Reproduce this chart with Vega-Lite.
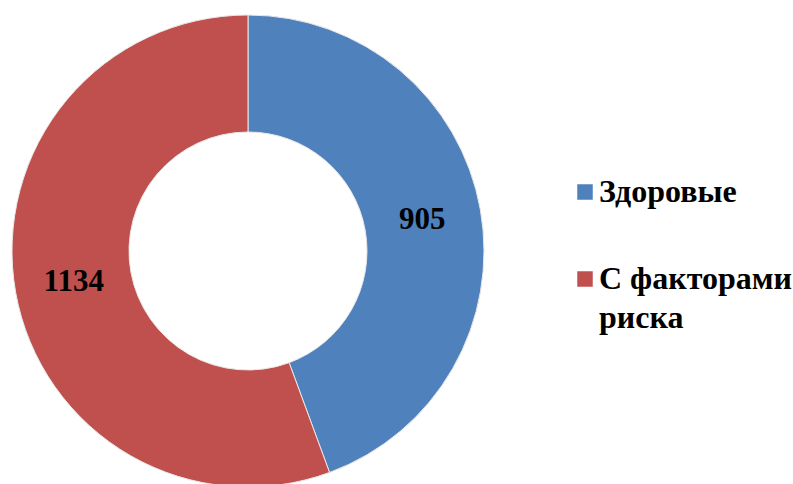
{
  "$schema": "https://vega.github.io/schema/vega-lite/v6.json",
  "width": 496,
  "height": 466,
  "autosize": {"type": "none"},
  "padding": {"left": 0, "top": 18, "right": 297, "bottom": 0},
  "background": "white",
  "config": {
    "legend": {"padding": 0},
    "style": {"guide-label": {"lineHeight": 39}}
  },
  "data": {"values": [
    {"group": "Здоровые", "count": 905},
    {"group": "С факторами риска", "count": 1134}
  ]},
  "encoding": {
    "theta": {"field": "count", "type": "quantitative", "stack": true},
    "color": {
      "field": "group", "type": "nominal",
      "scale": {"domain": ["Здоровые", "С факторами риска"], "range": ["#4F81BD", "#C0504D"]},
      "legend": {
        "orient": "none", "legendX": 569, "legendY": 158,
        "title": null,
        "symbolType": "square", "symbolSize": 240, "symbolStrokeWidth": 0,
        "labelFont": "Liberation Serif", "labelFontWeight": "bold", "labelFontSize": 32,
        "labelColor": "black", "labelOffset": -2, "labelLimit": 300,
        "rowPadding": 55,
        "labelExpr": "datum.label == 'С факторами риска' ? ['С факторами', 'риска'] : datum.label"
      }
    }
  },
  "layer": [
    {"mark": {"type": "arc", "outerRadius": 236, "innerRadius": 119, "stroke": "#e8e8e8", "strokeWidth": 1}},
    {"mark": {"type": "text", "radius": 177, "font": "Liberation Serif", "fontWeight": "bold", "fontSize": 31, "color": "black"},
     "encoding": {"text": {"field": "count", "type": "quantitative"}, "color": {"value": "black"}}}
  ]
}
